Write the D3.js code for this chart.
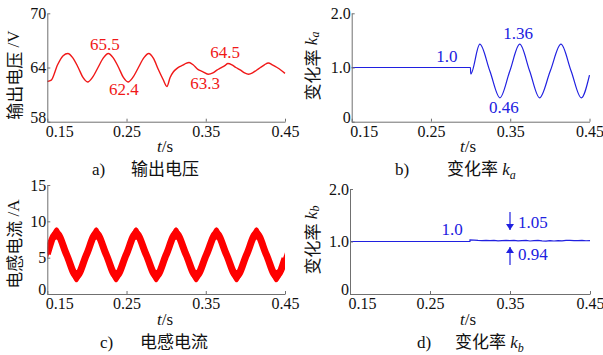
<!DOCTYPE html>
<html>
<head>
<meta charset="utf-8">
<script src="https://cdn.jsdelivr.net/npm/d3@7/dist/d3.min.js"></script>
<style>
  body { margin: 0; background: #fff; }
  svg { display: block; }
</style>
</head>
<body>
<div id="chart"></div>
<script>
// ---- data ----
const timeTicks = [0.15, 0.25, 0.35, 0.45];
const voltTicks = [58, 64, 70];
const rateTicks = [0, 1, 2];
const currTicks = [0, 5, 10, 15];

// a) output voltage
const voltT = [0.150, 0.155, 0.163, 0.170, 0.176, 0.182, 0.189, 0.195, 0.201, 0.207, 0.214, 0.221, 0.227,
  0.233, 0.240, 0.246, 0.252, 0.258, 0.265, 0.272, 0.278, 0.284, 0.290, 0.296, 0.301, 0.305, 0.309,
  0.313, 0.317, 0.321, 0.325, 0.329, 0.334, 0.340, 0.346, 0.353, 0.359, 0.364, 0.369, 0.374, 0.378,
  0.383, 0.388, 0.394, 0.399, 0.404, 0.409, 0.414, 0.419, 0.424, 0.429, 0.434, 0.440, 0.445, 0.450];
const voltV = [62.45, 62.6, 64.3, 65.3, 65.55, 65.1, 64.0, 62.9, 62.4, 62.9, 64.0, 65.1, 65.55,
  65.1, 64.0, 62.9, 62.4, 62.9, 64.0, 65.1, 65.55, 65.0, 63.8, 62.7, 61.9, 62.9, 63.5,
  63.85, 64.1, 64.25, 64.45, 64.55, 64.3, 63.8, 63.55, 63.25, 63.4, 63.7, 63.95, 64.2, 64.45,
  64.3, 64.0, 63.7, 63.4, 63.25, 63.4, 63.7, 64.0, 64.3, 64.5, 64.3, 64.0, 63.7, 63.35];

// b) rate k_a
const kaT = [0.150, 0.2998, 0.3002, 0.3116, 0.3243, 0.3370, 0.3495, 0.3620, 0.3745, 0.3870,
  0.4005, 0.4140, 0.4268, 0.4396, 0.4500];
const kaV = [1.0, 1.0, 0.88, 1.43, 0.935, 0.44, 0.935, 1.43, 0.935, 0.44, 0.935, 1.43, 0.935, 0.44, 0.86];

// c) inductor current (centre of the ripple band)
const currT = [0.150, 0.1618, 0.1744, 0.1870, 0.1994, 0.2118, 0.2244, 0.2370, 0.2495, 0.2620,
  0.2748, 0.2876, 0.3000, 0.3125, 0.3252, 0.3380, 0.3508, 0.3635, 0.3762, 0.3890, 0.4015,
  0.4140, 0.4265, 0.4390, 0.4500];
const currV = [5.5, 8.35, 5.4, 2.45, 5.4, 8.35, 5.4, 2.45, 5.4, 8.35, 5.4, 2.45, 5.4, 8.35, 5.4,
  2.45, 5.4, 8.35, 5.4, 2.45, 5.4, 8.35, 5.4, 2.45, 4.9];
const currRipple = 1.7;

// d) rate k_b
const kbT = [0.150, 0.2999, 0.300, 0.305, 0.310, 0.315, 0.320, 0.325, 0.330, 0.335, 0.340, 0.345,
  0.350, 0.355, 0.360, 0.365, 0.370, 0.375, 0.380, 0.385, 0.390, 0.395, 0.400, 0.405, 0.410,
  0.415, 0.420, 0.425, 0.430, 0.435, 0.440, 0.445, 0.450];
const kbV = [1.0, 1.0, 1.03, 1.025, 1.02, 1.018, 1.022, 1.015, 1.02, 1.012, 1.018, 1.022,
  1.015, 1.02, 1.012, 1.018, 1.02, 1.01, 1.016, 1.022, 1.012, 1.008, 1.018, 1.01, 1.016,
  1.012, 1.022, 1.02, 1.015, 1.018, 1.02, 1.014, 1.016];

// annotations: [t, value, text]
const voltNotes = [[0.2228, 65.94, "65.5"], [0.2468, 60.96, "62.4"], [0.3491, 61.62, "63.3"], [0.3743, 65.05, "64.5"]];
const kaNotes = [[0.2702, 1.10, "1.0"], [0.3598, 1.526, "1.36"], [0.342, 0.16, "0.46"]];
const kbNotes = [[0.2775, 1.124, "1.0"]];
const kbSideNotes = [[0.36, 1.257, "1.05"], [0.36, 0.648, "0.94"]];

const RED = "#f01818";
const BLUE = "#2020e0";
const SERIF = "'Liberation Serif', 'Times New Roman', serif";
const CJK = "'Noto Sans CJK SC', sans-serif";

const svg = d3.select("#chart").append("svg")
  .attr("width", 603)
  .attr("height", 355);

const defs = svg.append("defs");
defs.append("marker")
  .attr("id", "arrow")
  .attr("viewBox", "0 0 6 8")
  .attr("refX", 6).attr("refY", 4)
  .attr("markerWidth", 6).attr("markerHeight", 8)
  .attr("markerUnits", "userSpaceOnUse")
  .attr("orient", "auto")
  .append("path")
  .attr("d", "M0,0 L6,4 L0,8 Z")
  .attr("fill", BLUE);

// draw the two axes of one panel
function drawAxes(x, y, yTicks, yFmt) {
  const xa = svg.append("g")
    .attr("transform", `translate(0,${y.range()[0]})`)
    .call(d3.axisBottom(x).tickValues(timeTicks).tickSize(-3).tickSizeOuter(0)
      .tickPadding(4).tickFormat(d3.format(".2f")));
  xa.attr("font-family", SERIF).attr("font-size", 16);
  xa.selectAll("text").attr("fill", "#111");
  xa.select(".tick text").attr("dx", 12);   // first label pushed off the y axis

  const ya = svg.append("g")
    .attr("transform", `translate(${x.range()[0]},0)`)
    .call(d3.axisLeft(y).tickValues(yTicks).tickSize(-3).tickSizeOuter(0)
      .tickPadding(1).tickFormat(yFmt));
  ya.attr("font-family", SERIF).attr("font-size", 16);
  ya.selectAll("text").attr("fill", "#111");
  ya.select(".tick text").attr("dy", "0.05em");  // lowest label sits a little higher

  svg.selectAll(".domain, .tick line").attr("stroke", "#707070");
}

function timeLabel(cx, baseline) {
  const t = svg.append("text")
    .attr("x", cx).attr("y", baseline)
    .attr("text-anchor", "middle")
    .attr("font-family", SERIF).attr("font-size", 17)
    .attr("fill", "#111");
  t.append("tspan").attr("font-style", "italic").text("t");
  t.append("tspan").text("/s");
}

function yLabel(cx, cy, cjk, unit, sub) {
  const t = svg.append("text")
    .attr("transform", `translate(${cx},${cy}) rotate(-90)`)
    .attr("text-anchor", "middle")
    .attr("dominant-baseline", "central")
    .attr("font-family", CJK).attr("font-size", 17)
    .attr("fill", "#111");
  t.append("tspan").text(cjk);
  if (sub) {
    t.append("tspan").attr("font-family", SERIF).attr("font-style", "italic").text(" k");
    t.append("tspan").attr("font-family", SERIF).attr("font-style", "italic")
      .attr("font-size", 12).attr("dy", 4).text(sub);
  } else {
    t.append("tspan").attr("font-family", SERIF).text(" /" + unit);
  }
}

function caption(x0, xc, baseline, tag, cjk, sub) {
  svg.append("text")
    .attr("x", x0).attr("y", baseline)
    .attr("font-family", SERIF).attr("font-size", 17).attr("fill", "#111")
    .text(tag);
  const t = svg.append("text")
    .attr("x", xc).attr("y", baseline)
    .attr("font-family", CJK).attr("font-size", 17).attr("fill", "#111");
  t.append("tspan").text(cjk);
  if (sub) {
    t.append("tspan").attr("font-family", SERIF).attr("font-style", "italic").text(" k");
    t.append("tspan").attr("font-family", SERIF).attr("font-style", "italic")
      .attr("font-size", 12).attr("dy", 4).text(sub);
  }
}

function notes(x, y, list, color, anchor) {
  svg.append("g").selectAll("text")
    .data(list)
    .enter()
    .append("text")
    .attr("x", d => x(d[0]))
    .attr("y", d => y(d[1]))
    .attr("text-anchor", anchor)
    .attr("font-family", SERIF).attr("font-size", 17)
    .attr("fill", color)
    .text(d => d[2]);
}

// ---- a) output voltage ----
{
  const x = d3.scaleLinear().domain([0.15, 0.45]).range([47.3, 285]);
  const y = d3.scaleLinear().domain([58, 70]).range([121.7, 13.3]);
  const pts = voltT.map((t, i) => [t, voltV[i]]);
  svg.append("path")
    .datum(pts)
    .attr("fill", "none")
    .attr("stroke", RED)
    .attr("stroke-width", 1.4)
    .attr("d", d3.line().x(d => x(d[0])).y(d => y(d[1])).curve(d3.curveMonotoneX));
  drawAxes(x, y, voltTicks, d3.format("d"));
  notes(x, y, voltNotes, RED, "middle");
  yLabel(13, 75, "输出电压", "V");
  timeLabel(165, 152);
  caption(92, 131, 175, "a)", "输出电压");
}

// ---- b) k_a ----
{
  const x = d3.scaleLinear().domain([0.15, 0.45]).range([351.7, 589.5]);
  const y = d3.scaleLinear().domain([0, 2]).range([121.7, 13.3]);
  const pts = kaT.map((t, i) => [t, kaV[i]]);
  svg.append("path")
    .datum(pts)
    .attr("fill", "none")
    .attr("stroke", BLUE)
    .attr("stroke-width", 1.2)
    .attr("d", d3.line().x(d => x(d[0])).y(d => y(d[1])).curve(d3.curveMonotoneX));
  drawAxes(x, y, rateTicks, d => d === 0 ? "0" : d3.format(".1f")(d));
  notes(x, y, kaNotes, BLUE, "middle");
  yLabel(311, 66, "变化率", null, "a");
  timeLabel(468, 152);
  caption(395, 447, 175, "b)", "变化率", "a");
}

// ---- c) inductor current ----
{
  const x = d3.scaleLinear().domain([0.15, 0.45]).range([47.3, 285]);
  const y = d3.scaleLinear().domain([0, 15]).range([294, 185]);
  const pts = currT.map((t, i) => [t, currV[i]]);

  // keep the band inside the plot area
  defs.append("clipPath").attr("id", "clipC")
    .append("rect")
    .attr("x", x.range()[0]).attr("y", y.range()[1])
    .attr("width", x.range()[1] - x.range()[0])
    .attr("height", y.range()[0] - y.range()[1]);
  const band = svg.append("g").attr("clip-path", "url(#clipC)");

  // ripple band: filled envelope plus a wide stroke so the slopes stay thick
  band.append("path")
    .datum(pts)
    .attr("fill", "#ff0000")
    .attr("d", d3.area()
      .x(d => x(d[0]))
      .y0(d => y(d[1] - currRipple / 2))
      .y1(d => y(d[1] + currRipple / 2))
      .curve(d3.curveMonotoneX));
  band.append("path")
    .datum(pts)
    .attr("fill", "none")
    .attr("stroke", "#ff0000")
    .attr("stroke-width", 7)
    .attr("d", d3.line().x(d => x(d[0])).y(d => y(d[1])).curve(d3.curveMonotoneX));
  drawAxes(x, y, currTicks, d3.format("d"));
  yLabel(13, 244, "电感电流", "A");
  timeLabel(165, 325);
  caption(100, 140, 348, "c)", "电感电流");
}

// ---- d) k_b ----
{
  const x = d3.scaleLinear().domain([0.15, 0.45]).range([350, 590]);
  const y = d3.scaleLinear().domain([0, 2]).range([294, 189]);
  const pts = kbT.map((t, i) => [t, kbV[i]]);
  svg.append("path")
    .datum(pts)
    .attr("fill", "none")
    .attr("stroke", BLUE)
    .attr("stroke-width", 1.2)
    .attr("d", d3.line().x(d => x(d[0])).y(d => y(d[1])));
  drawAxes(x, y, rateTicks, d => d === 0 ? "0" : d3.format(".1f")(d));
  notes(x, y, kbNotes, BLUE, "middle");
  notes(x, y, kbSideNotes, BLUE, "start");

  // arrows pointing at the band edges
  const arrows = [[0.35, 1.562, 1.219], [0.35, 0.552, 0.895]];
  svg.append("g").selectAll("line")
    .data(arrows)
    .enter()
    .append("line")
    .attr("x1", d => x(d[0])).attr("x2", d => x(d[0]))
    .attr("y1", d => y(d[1])).attr("y2", d => y(d[2]))
    .attr("stroke", BLUE)
    .attr("stroke-width", 1.2)
    .attr("marker-end", "url(#arrow)");

  yLabel(311, 240, "变化率", null, "b");
  timeLabel(468, 325);
  caption(417, 455, 348, "d)", "变化率", "b");
}
</script>
</body>
</html>
